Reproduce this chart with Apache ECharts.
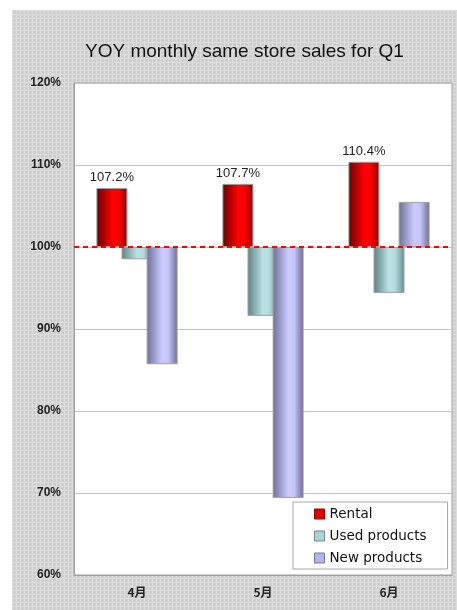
<!DOCTYPE html>
<html>
<head>
<meta charset="utf-8">
<script src="https://cdn.jsdelivr.net/npm/echarts@6/dist/echarts.min.js"></script>
<style>
html,body{margin:0;padding:0;background:#fff;}
#c{position:absolute;left:12px;top:10px;width:445px;height:600px;}
</style>
</head>
<body>
<div id="c"></div>
<script>
var categories = ['4月', '5月', '6月'];
var rental = [107.2, 107.7, 110.4];
var usedProducts = [98.5, 91.6, 94.4];
var newProducts = [85.7, 69.4, 105.5];
var baseline = 100;
var yMin = 60, yMax = 120, yInterval = 10;

function dev(arr){ return arr.map(function(v){ return +(v - baseline).toFixed(2); }); }
function grad(c0, c1, c2, c3){
  return new echarts.graphic.LinearGradient(0, 0, 1, 0, [
    {offset: 0, color: c0}, {offset: 0.5, color: c1}, {offset: 0.7, color: c2}, {offset: 1, color: c3}
  ]);
}
// textured grey background
var pc = document.createElement('canvas');
pc.width = 4; pc.height = 4;
var pctx = pc.getContext('2d');
pctx.fillStyle = '#d0d0d0'; pctx.fillRect(0, 0, 4, 4);
pctx.fillStyle = '#dcdcdc'; pctx.fillRect(0, 0, 4, 1); pctx.fillRect(0, 0, 1, 4);
pctx.fillStyle = '#c9c9c9'; pctx.fillRect(2, 2, 1, 1);

var chart = echarts.init(document.getElementById('c'));
var barW = 31;
var option = {
  backgroundColor: {image: pc, repeat: 'repeat'},
  animation: false,
  title: {
    text: 'YOY monthly same store sales for Q1',
    left: 68,
    top: 27,
    textStyle: {fontFamily: 'Liberation Sans, Arial, sans-serif', fontSize: 19, fontWeight: 'normal', color: '#111'}
  },
  grid: {
    left: 62, right: 5, top: 73, bottom: 35,
    show: true, backgroundColor: '#ffffff', borderColor: '#a0a0a0', borderWidth: 1
  },
  legend: {
    orient: 'vertical',
    left: 281, top: 492,
    backgroundColor: '#ffffff',
    borderColor: '#a8a8a8', borderWidth: 1,
    padding: [5, 21, 4, 21],
    itemWidth: 10, itemHeight: 10, itemGap: 8,
    icon: 'rect',
    textStyle: {fontFamily: 'DejaVu Sans, sans-serif', fontSize: 13.5, color: '#111'},
    data: [
      {name: 'Rental', itemStyle: {color: '#e00000', borderColor: '#900000', borderWidth: 1}},
      {name: 'Used products', itemStyle: {color: '#a8d4d4', borderColor: '#708888', borderWidth: 1}},
      {name: 'New products', itemStyle: {color: '#b4b4ec', borderColor: '#7878a0', borderWidth: 1}}
    ]
  },
  xAxis: {
    type: 'category',
    data: categories,
    position: 'bottom',
    axisLine: {show: true, onZero: false, lineStyle: {color: '#a0a0a0', width: 1}},
    axisTick: {show: false},
    axisLabel: {margin: 11, fontFamily: 'Noto Sans CJK JP, sans-serif', fontSize: 12, fontWeight: 'bold', color: '#222'}
  },
  yAxis: {
    type: 'value',
    min: yMin - baseline, max: yMax - baseline, interval: yInterval,
    axisLine: {show: true, lineStyle: {color: '#a0a0a0'}},
    axisTick: {show: false},
    splitLine: {show: true, lineStyle: {color: '#c4c4c4', width: 1}},
    axisLabel: {
      margin: 13,
      fontFamily: 'Liberation Sans, Arial, sans-serif', fontSize: 12, fontWeight: 'bold', color: '#222',
      formatter: function(v){ return (v + baseline) + '%'; }
    }
  },
  series: [
    {
      name: 'Rental', type: 'bar', barWidth: barW, barGap: '-19%',
      data: dev(rental),
      itemStyle: {color: grad('#6a0000', '#ff0000', '#ff0000', '#8a0000'), borderColor: '#a0a0a0', borderWidth: 1},
      label: {
        show: true, position: 'top', distance: 4,
        fontFamily: 'Liberation Sans, Arial, sans-serif', fontSize: 13, color: '#222',
        formatter: function(p){ return rental[p.dataIndex].toFixed(1) + '%'; }
      },
      markLine: {
        silent: true, symbol: 'none', label: {show: false},
        lineStyle: {color: '#ff0000', type: [5, 4], width: 2},
        data: [{yAxis: 0}]
      },
      z: 3
    },
    {
      name: 'Used products', type: 'bar', barWidth: barW, barGap: '-19%',
      data: dev(usedProducts),
      itemStyle: {color: grad('#5a8282', '#bce2e2', '#b4dcdc', '#678c8c'), borderColor: '#a0a0a0', borderWidth: 1}
    },
    {
      name: 'New products', type: 'bar', barWidth: barW, barGap: '-19%',
      data: dev(newProducts),
      itemStyle: {color: grad('#6e6e98', '#cacaff', '#c4c4f8', '#6c6c90'), borderColor: '#a0a0a0', borderWidth: 1}
    }
  ]
};
chart.setOption(option);
</script>
</body>
</html>
